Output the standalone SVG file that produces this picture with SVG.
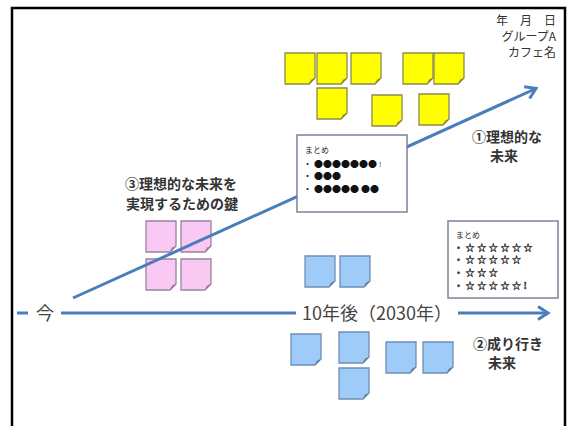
<svg xmlns="http://www.w3.org/2000/svg" width="571" height="426" viewBox="0 0 571 426">
<style>
.frame{fill:#fff;stroke:#000;stroke-width:2.5}
.conn{fill:none;stroke:#4a7ebb;stroke-width:3}
.y{fill:#ffff00;stroke:#8c8a52;stroke-width:1.3}
.p{fill:#f9c9f4;stroke:#9a84a0;stroke-width:1.3}
.b{fill:#9ecbf7;stroke:#6e8eb4;stroke-width:1.3}
.fold{fill:#000;fill-opacity:0.25;stroke:none}
.box{fill:#fff;stroke:#808098;stroke-width:1.5}
.t{font-family:"Noto Sans CJK JP",sans-serif;fill:#333}
.lbl{font-family:"Noto Sans CJK JP",sans-serif;font-weight:700;font-size:14px;fill:#333;text-anchor:middle}
.small{font-family:"Noto Sans CJK JP",sans-serif;font-size:8px;fill:#222}
.stars{font-family:"Noto Sans CJK JP",sans-serif;font-size:9px;font-weight:700;fill:#333;stroke:#333;stroke-width:0.35}
.dots{font-family:"Noto Sans CJK JP",sans-serif;font-size:9px;fill:#111}
.axis{font-family:"Noto Sans CJK JP",sans-serif;font-size:18px;fill:#444;text-anchor:middle}
</style>
<defs>
<path id="note" d="M0,0 H30 V25 L24,31 H0 Z"/>
<path id="fold" d="M24,31 L25.6,26.6 L30,25 Z"/>
<marker id="ah" markerUnits="userSpaceOnUse" markerWidth="18" markerHeight="18" refX="13" refY="9" orient="auto">
<path d="M3,2.5 L13,9 L3,15.5" fill="none" stroke="#4a7ebb" stroke-width="3" stroke-linejoin="miter"/>
</marker>
</defs>
<rect class="frame" x="12" y="8" width="553" height="440"/>
<g id="header" class="t" font-size="12" text-anchor="end">
<text x="556" y="25">年　月　日</text>
<text x="556" y="41">グループA</text>
<text x="556" y="57">カフェ名</text>
</g>
<g id="pink-notes">
<g class="p"><use href="#note" x="146" y="221"/><use href="#note" x="181" y="221"/><use href="#note" x="146" y="259"/><use href="#note" x="181" y="259"/></g>
<g class="fold"><use href="#fold" x="146" y="221"/><use href="#fold" x="181" y="221"/><use href="#fold" x="146" y="259"/><use href="#fold" x="181" y="259"/></g>
</g>
<g id="connectors">
<line class="conn" x1="17" y1="313" x2="548" y2="313" marker-end="url(#ah)"/>
<line class="conn" x1="73" y1="298" x2="536" y2="88.5" marker-end="url(#ah)"/>
</g>
<g id="now">
<rect x="28" y="301" width="33" height="24" fill="#fff"/>
<text class="axis" x="45" y="320">今</text>
</g>
<g id="ten-years">
<rect x="296" y="300" width="162" height="26" fill="#fff"/>
<text class="axis" x="377" y="320">10年後（2030年）</text>
</g>
<g id="yellow-notes">
<g class="y">
<use href="#note" x="285" y="53"/><use href="#note" x="317" y="53"/><use href="#note" x="351" y="53"/><use href="#note" x="403" y="53"/><use href="#note" x="434" y="53"/>
<use href="#note" x="317" y="88"/><use href="#note" x="372" y="95"/><use href="#note" x="419" y="94"/>
</g>
<g class="fold">
<use href="#fold" x="285" y="53"/><use href="#fold" x="317" y="53"/><use href="#fold" x="351" y="53"/><use href="#fold" x="403" y="53"/><use href="#fold" x="434" y="53"/>
<use href="#fold" x="317" y="88"/><use href="#fold" x="372" y="95"/><use href="#fold" x="419" y="94"/>
</g>
</g>
<g id="blue-notes">
<g class="b">
<use href="#note" x="305" y="256"/><use href="#note" x="340" y="256"/>
<use href="#note" x="291" y="334"/><use href="#note" x="339" y="332"/><use href="#note" x="339" y="368"/>
<use href="#note" x="386" y="342"/><use href="#note" x="423" y="342"/>
</g>
<g class="fold">
<use href="#fold" x="305" y="256"/><use href="#fold" x="340" y="256"/>
<use href="#fold" x="291" y="334"/><use href="#fold" x="339" y="332"/><use href="#fold" x="339" y="368"/>
<use href="#fold" x="386" y="342"/><use href="#fold" x="423" y="342"/>
</g>
</g>
<g id="summary-ideal">
<rect class="box" x="297" y="135" width="110" height="77"/>
<text class="small" x="305" y="153">まとめ</text>
<text class="dots" x="303" y="167">・ ●●●●●●● <tspan font-size="7">!</tspan></text>
<text class="dots" x="303" y="179">・ ●●●</text>
<text class="dots" x="303" y="192">・ ●●●●● ●●</text>
</g>
<g id="summary-trend">
<rect class="box" x="448" y="221" width="110" height="77"/>
<text class="small" x="456" y="238">まとめ</text>
<text class="stars" x="454" y="251" letter-spacing="2.6">・☆☆☆☆☆☆</text>
<text class="stars" x="454" y="263" letter-spacing="2.6">・☆☆☆☆☆</text>
<text class="stars" x="454" y="276" letter-spacing="2.6">・☆☆☆</text>
<text class="stars" x="454" y="289" letter-spacing="2.6">・☆☆☆☆☆!</text>
</g>
<g id="label-ideal">
<text class="lbl" x="507" y="142">①理想的な</text>
<text class="lbl" x="504" y="161">未来</text>
</g>
<g id="label-key">
<text class="lbl" x="181" y="189" font-size="15">③理想的な未来を</text>
<text class="lbl" x="182" y="209" font-size="15">実現するための鍵</text>
</g>
<g id="label-trend">
<text class="lbl" x="508" y="349">②成り行き</text>
<text class="lbl" x="502" y="368">未来</text>
</g>
</svg>
